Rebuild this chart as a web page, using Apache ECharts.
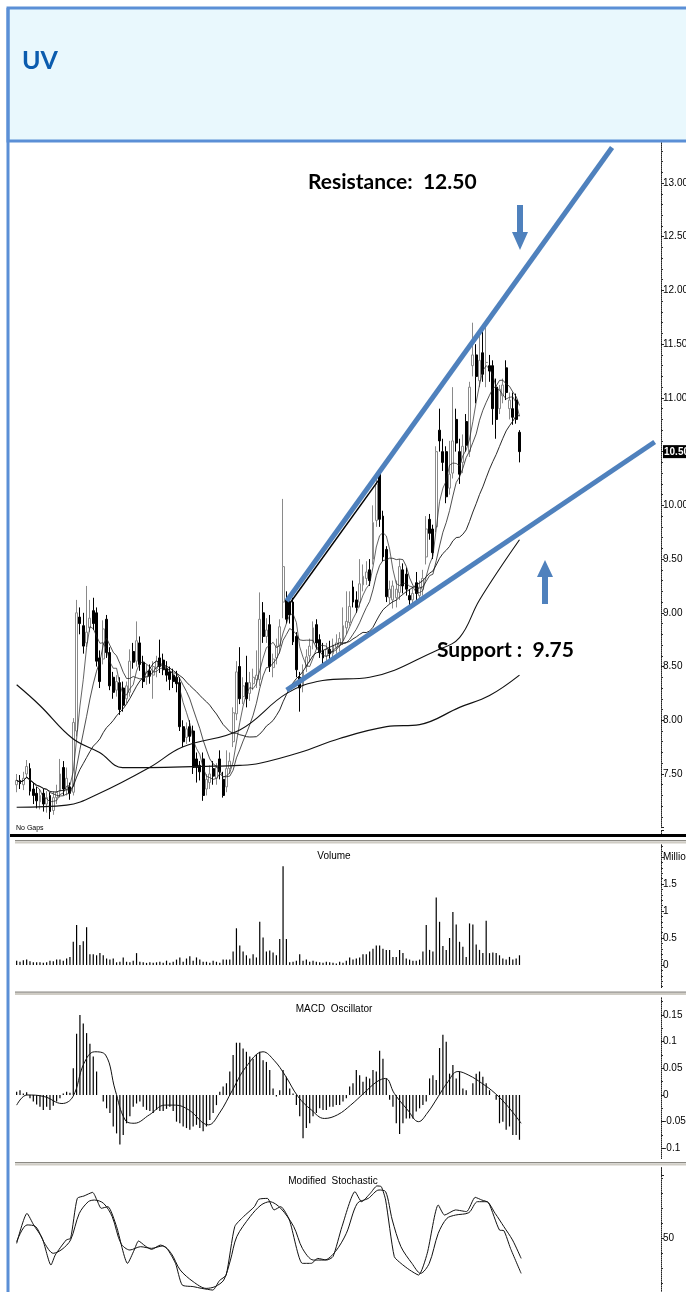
<!DOCTYPE html>
<html><head><meta charset="utf-8">
<script src="https://cdn.jsdelivr.net/npm/echarts@6/dist/echarts.min.js"></script>
<style>html,body{margin:0;padding:0;background:#fff}#c{width:686px;height:1292px}</style>
</head><body><div id="c"></div>
<script>
// ---------- DATA ----------
// daily bars: [open, close, low, high]
const ohlc = [
[7.40,7.44,7.33,7.50],[7.44,7.41,7.36,7.49],[7.40,7.46,7.35,7.52],[7.50,7.57,7.46,7.63],[7.55,7.34,7.30,7.60],
[7.36,7.30,7.22,7.42],[7.32,7.25,7.18,7.38],[7.24,7.30,7.17,7.36],[7.32,7.22,7.15,7.36],[7.22,7.28,7.14,7.34],
[7.30,7.15,7.08,7.33],[7.16,7.28,7.12,7.34],[7.28,7.33,7.22,7.40],[7.34,7.50,7.28,7.64],[7.56,7.36,7.30,7.62],
[7.36,7.46,7.30,7.56],[7.38,7.32,7.26,7.42],[7.33,7.98,7.30,8.02],[7.90,9.00,7.85,9.12],[8.96,8.90,8.80,9.05],
[8.88,8.69,8.62,9.00],[8.72,8.82,8.68,9.25],[8.86,8.95,8.82,9.12],[9.02,8.90,8.84,9.14],[9.00,8.55,8.50,9.05],
[8.58,8.36,8.30,8.65],[8.57,8.85,8.52,8.93],[8.94,8.63,8.58,8.98],[8.63,8.32,8.28,8.68],[8.40,8.26,8.20,8.45],
[8.28,8.36,8.22,8.42],[8.35,8.10,8.05,8.40],[8.30,8.14,8.08,8.36],[8.20,8.32,8.16,8.36],[8.26,8.55,8.22,8.66],
[8.64,8.54,8.48,8.72],[8.55,8.74,8.50,8.92],[8.72,8.52,8.46,8.78],[8.54,8.36,8.30,8.60],[8.40,8.45,8.33,8.52],
[8.46,8.41,8.34,8.52],[8.42,8.50,8.20,8.55],[8.48,8.55,8.40,8.60],[8.58,8.50,8.44,8.75],[8.56,8.47,8.42,8.62],
[8.48,8.42,8.36,8.55],[8.45,8.38,8.28,8.50],[8.42,8.36,8.30,8.48],[8.40,8.34,8.26,8.46],[8.35,7.94,7.90,8.40],
[7.94,7.80,7.75,8.00],[7.84,7.92,7.78,7.98],[7.94,7.85,7.80,8.00],[7.90,7.56,7.50,7.95],[7.64,7.56,7.42,7.70],
[7.58,7.52,7.44,7.62],[7.64,7.30,7.25,7.70],[7.36,7.45,7.30,7.50],[7.42,7.50,7.36,7.58],[7.55,7.48,7.40,7.62],
[7.46,7.56,7.40,7.60],[7.64,7.52,7.45,7.72],[7.45,7.30,7.28,7.52],[7.38,7.55,7.33,7.72],[7.55,7.62,7.50,7.70],
[7.80,8.07,7.75,8.12],[8.06,8.45,8.00,8.55],[8.50,8.20,8.15,8.68],[8.22,8.32,8.15,8.40],[8.35,8.20,8.12,8.60],
[8.25,8.35,8.18,8.45],[8.34,8.40,8.28,8.48],[8.38,8.42,8.30,8.65],[8.38,8.94,8.32,9.19],[9.00,8.78,8.72,9.10],
[8.78,8.84,8.72,8.95],[8.89,8.50,8.45,8.98],[8.49,8.57,8.40,8.62],[8.58,8.69,8.52,8.76],[8.69,8.87,8.62,8.94],
[9.10,9.43,8.95,10.06],[9.12,8.94,8.90,9.20],[9.10,8.98,8.90,9.14],[9.10,8.73,8.70,9.14],[8.78,8.47,8.40,8.82],
[8.40,8.30,8.08,8.45],[8.32,8.45,8.26,8.52],[8.50,8.59,8.45,8.66],[8.60,8.69,8.54,8.76],[8.72,8.86,8.66,8.92],
[8.89,8.72,8.66,8.94],[8.75,8.63,8.58,8.80],[8.65,8.58,8.52,8.72],[8.60,8.66,8.54,8.72],[8.66,8.62,8.56,8.74],
[8.62,8.70,8.58,8.76],[8.68,8.72,8.62,8.80],[8.70,8.76,8.64,8.82],[8.74,8.88,8.70,9.05],[8.86,8.92,8.80,9.20],
[8.91,9.06,8.88,9.20],[9.24,9.10,9.05,9.30],[9.12,9.05,9.00,9.20],[9.10,9.27,9.05,9.50],[9.26,9.34,9.20,9.45],
[9.32,9.38,9.26,9.48],[9.40,9.30,9.25,9.50],[9.50,9.84,9.45,10.00],[9.86,10.20,9.80,10.25],[10.29,9.87,9.80,10.31],
[9.90,9.52,9.48,9.95],[9.59,9.15,9.10,9.62],[9.14,9.22,9.08,9.30],[9.12,9.25,9.04,9.30],[9.14,9.22,9.05,9.30],
[9.19,9.43,9.12,9.50],[9.40,9.25,9.18,9.46],[9.36,9.22,9.16,9.42],[9.16,9.12,9.05,9.22],[9.12,9.18,9.06,9.24],
[9.28,9.18,9.10,9.38],[9.16,9.24,9.10,9.30],[9.22,9.32,9.16,9.40],[9.52,9.78,9.45,9.90],[9.87,9.74,9.68,9.92],
[9.78,9.56,9.50,9.82],[9.80,10.50,9.75,10.55],[10.70,10.60,10.50,10.90],[10.50,10.40,10.32,10.62],[10.50,10.08,10.02,10.55],
[10.16,10.29,10.10,10.60],[10.30,10.60,10.25,11.10],[10.80,10.58,10.50,10.90],[10.50,10.29,10.20,10.62],[10.40,10.55,10.30,10.66],
[10.78,10.56,10.50,10.85],[10.50,11.10,10.45,11.15],[11.30,11.40,11.20,11.70],[11.40,11.20,10.95,11.50],[11.16,11.35,11.10,11.58],
[11.42,11.22,11.15,11.65],[11.33,11.33,11.10,11.68],[11.30,11.25,11.15,11.40],[11.30,10.90,10.75,11.35],[11.10,10.80,10.62,11.18],
[10.90,11.08,10.85,11.12],[11.02,11.12,10.95,11.18],[11.28,11.05,10.98,11.35],[10.90,10.98,10.80,11.05],[10.90,10.82,10.75,11.05],
[10.98,10.80,10.76,11.04],[10.68,10.50,10.40,10.70]
];
// volume, millions of shares
const volume = [
0.08,0.06,0.09,0.10,0.07,0.05,0.05,0.05,0.04,0.05,0.08,0.07,0.10,0.10,0.08,0.12,0.15,
0.43,0.74,0.37,0.44,0.70,
0.20,0.20,0.18,0.22,0.18,0.12,0.10,0.12,
0.05,0.06,0.14,0.06,0.05,0.08,0.22,0.06,0.05,0.04,
0.05,0.04,0.05,0.06,0.04,0.08,0.04,0.06,0.10,0.14,
0.06,0.12,0.16,0.08,0.14,0.10,0.06,0.06,0.04,0.08,
0.06,0.04,0.10,0.10,0.10,0.25,0.68,0.36,0.25,0.18,0.12,0.20,
0.14,0.80,0.51,0.25,0.27,0.23,0.18,0.48,1.83,0.48,
0.05,0.06,0.08,0.20,0.08,0.10,0.06,0.08,0.06,0.05,0.04,0.06,0.05,0.04,0.03,0.06,0.04,0.08,0.14,0.10,0.12,0.14,0.20,0.20,
0.25,0.30,0.36,0.36,0.30,0.28,0.28,0.15,0.15,0.28,0.22,0.12,0.10,0.08,0.08,0.10,0.25,
0.74,0.28,0.25,1.25,0.80,0.35,0.28,0.50,0.98,0.75,0.43,0.34,0.15,0.77,0.75,0.38,0.28,0.22,0.82,0.22,0.23,0.22,0.18,0.12,0.10,0.15,0.10,0.12,0.18
];
// MACD oscillator histogram
const macdHist = [
0.006,0.009,0.003,0.005,-0.006,-0.012,-0.018,-0.022,-0.028,-0.022,
-0.028,-0.02,-0.012,-0.006,0.003,0.006,0.004,0.05,0.115,0.15,
0.134,0.116,0.096,0.072,0.044,0.0,-0.012,-0.025,-0.034,-0.059,
-0.072,-0.093,-0.075,-0.053,-0.04,-0.022,-0.016,-0.012,-0.022,-0.028,
-0.03,-0.034,-0.028,-0.03,-0.03,-0.026,-0.022,-0.03,-0.05,-0.053,
-0.059,-0.062,-0.065,-0.059,-0.056,-0.062,-0.068,-0.059,-0.047,-0.034,
-0.019,0.006,0.016,0.022,0.044,0.075,0.098,0.098,0.087,0.081,
0.072,0.068,0.075,0.081,0.065,0.062,0.047,0.012,-0.003,0.009,
0.047,0.034,0.012,0.003,-0.019,-0.04,-0.081,-0.062,-0.053,-0.04,
-0.034,-0.025,-0.028,-0.028,-0.022,-0.022,-0.019,-0.019,-0.012,-0.006,
0.016,0.022,0.047,0.037,0.025,0.034,0.031,0.047,0.044,0.083,
0.068,0.031,-0.009,-0.022,-0.053,-0.073,-0.053,-0.044,-0.044,-0.044,
-0.031,-0.025,-0.019,-0.012,0.031,0.037,0.028,0.088,0.113,0.10,
0.04,0.056,0.031,0.044,0.012,0.009,0.0,0.022,0.04,0.044,
0.034,0.022,0.009,0.0,-0.009,-0.053,-0.05,-0.065,-0.059,-0.075,
-0.075,-0.084
];
// MACD signal line, read at [bar, value]
const macdSignal = [[0,-0.019],[3.1,0.0],[8.3,-0.003],[13.6,-0.016],[16.9,-0.003],[20.2,0.059],[23.4,0.081],[26.7,0.075],[29.6,0.009],[32.6,-0.047],[35.3,-0.053],[39.9,-0.037],[44.5,-0.019],[47.7,-0.019],[51.7,-0.028],[57.6,-0.056],[60.9,-0.034],[64.8,0.009],[68.8,0.052],[74.0,0.081],[77.3,0.065],[80.6,0.037],[84.5,-0.003],[88.5,-0.028],[92.4,-0.044],[96.4,-0.037],[100.3,-0.019],[104.2,0.003],[108.2,0.025],[110.8,0.031],[113.4,0.003],[117.4,-0.028],[120.7,-0.050],[123.3,-0.034],[126.6,-0.003],[129.2,0.022],[132.5,0.044],[135.8,0.037],[139.7,0.022],[143.7,0.003],[147.6,-0.022],[151.5,-0.053]];
// Modified stochastic, read at [bar, value]
const stochK = [[0,46.4],[3.1,66.4],[5.1,58.7],[7.7,49.8],[10.3,32.0],[11.6,38.7],[14.9,48.7],[16.2,49.8],[18.2,76.4],[20.2,78.0],[22.8,80.4],[24.1,75.3],[25.4,69.8],[27.4,70.9],[30.0,57.6],[33.3,33.1],[35.3,42.0],[36.6,48.0],[38.6,44.7],[40.5,42.4],[43.2,45.3],[45.1,43.1],[47.7,33.1],[49.7,18.7],[53.0,17.6],[55.6,16.4],[58.9,15.3],[60.9,21.6],[62.9,25.3],[65.5,57.6],[68.1,64.2],[71.4,70.9],[72.7,75.8],[75.3,76.4],[77.3,68.7],[79.3,70.9],[81.9,62.0],[85.8,33.1],[88.5,33.1],[90.4,36.4],[93.1,35.3],[95.0,37.6],[97.7,57.6],[101.6,80.9],[103.6,74.2],[106.2,79.8],[108.2,84.7],[109.5,84.2],[110.8,75.3],[113.4,37.6],[115.4,33.1],[118.0,28.7],[120.7,25.3],[123.3,39.8],[126.6,72.0],[128.5,65.3],[131.8,68.7],[135.1,67.6],[137.7,77.1],[139.7,75.3],[141.7,73.6],[145.0,55.3],[146.3,54.9],[148.3,43.1],[151.5,26.4]];
const stochD = [[0,47.6],[3.1,58.7],[5.7,57.6],[8.4,46.4],[11.0,39.8],[13.6,42.4],[16.2,48.7],[18.8,66.4],[21.5,74.2],[23.4,75.3],[26.1,73.1],[28.7,64.2],[31.3,46.4],[34.0,42.0],[37.2,44.2],[40.5,43.1],[43.8,44.7],[46.4,39.8],[49.1,28.7],[53.0,20.9],[56.9,16.4],[59.6,17.6],[62.2,22.0],[64.2,35.3],[66.1,50.9],[70.1,64.2],[73.4,72.0],[76.0,74.2],[79.3,69.8],[83.2,57.6],[85.8,43.1],[89.1,35.3],[92.4,35.3],[95.7,40.9],[99.0,53.1],[102.3,73.1],[105.6,76.4],[108.8,82.0],[110.8,80.9],[112.8,62.0],[115.4,44.2],[118.7,33.1],[121.3,26.4],[123.9,33.1],[126.6,53.1],[129.2,63.1],[131.8,65.3],[135.8,66.9],[138.4,74.2],[141.0,74.2],[143.7,66.4],[146.3,57.6],[148.9,48.7],[151.5,36.4]];
// long moving averages, read at [bar, price]
const maLong = [[0,8.33],[6.9,8.14],[16.8,7.83],[24.9,7.70],[31.8,7.56],[39.9,7.56],[55.0,7.57],[67.0,7.58],[73.0,7.60],[85.0,7.70],[97.0,7.83],[111.1,7.94],[121.0,7.96],[133.0,8.12],[142.0,8.23],[151.0,8.42]];
const maMid = [[0,7.19],[15.0,7.21],[24.9,7.32],[39.9,7.56],[49.8,7.75],[67.0,7.91],[81.1,8.25],[91.9,8.37],[106.0,8.40],[126.1,8.65],[133.0,8.77],[139.0,9.12],[151.0,9.68]];
// drawn trend lines [bar, price]
const resistanceLine = [[81.1,9.11],[178.8,13.33]];
const resistanceDraft = [[81.6,9.07],[108.6,10.23]];
const supportLine = [[81.1,8.28],[191.6,10.59]];
const priceLevels = {resistance:'12.50', support:'9.75', last:10.5};

// ---------- LAYOUT ----------
const NS = 194;                       // bar slots across the plot (incl. empty right margin)
const slots = Array.from({length: NS}, (_, i) => 'b' + i);
const L = 15, W = 646;
const labFont = "'Liberation Sans Narrow','Liberation Sans',Arial,sans-serif";
const closes = ohlc.map(d => d[1]);
function sma(n){return closes.map((c,i)=>{const s=Math.max(0,i-n+1);let t=0;for(let k=s;k<=i;k++)t+=closes[k];return +(t/(i-s+1)).toFixed(3);});}

function catX(g){return {type:'category',gridIndex:g,data:slots,boundaryGap:true,show:false};}
function valX(g){return {type:'value',gridIndex:g,min:-0.5,max:NS-0.5,show:false};}
function yAx(g,min,max,interval,fmt,minor){
  return {type:'value',gridIndex:g,position:'right',min,max,interval,
    splitLine:{show:false},
    axisLine:{show:true,onZero:false,lineStyle:{color:'#222',type:'dotted',width:1}},
    axisTick:{show:true,length:3,lineStyle:{color:'#222'}},
    minorTick:{show:true,splitNumber:minor,length:2,lineStyle:{color:'#333'}},
    axisLabel:{show:true,margin:2,color:'#000',fontSize:10,fontFamily:labFont,formatter:fmt,
      rich:{hl:{backgroundColor:'#000',color:'#fff',fontSize:10,fontWeight:'bold',fontFamily:labFont,padding:[2,1,1,1]}}}};
}
const line = (x, data, w, extra) => Object.assign({type:'line',xAxisIndex:x,yAxisIndex:0,data,showSymbol:false,symbol:'none',silent:true,
  lineStyle:{color:'#111',width:w}},extra||{});

const option = {
  animation:false,
  backgroundColor:'#fff',
  grid:[
    {left:L,width:W,top:129.3,height:698.4,containLabel:false,outerBoundsMode:'none'},
    {left:L,width:W,top:830,height:162,containLabel:false,outerBoundsMode:'none'},
    {left:L,width:W,top:988.3,height:186.7,containLabel:false,outerBoundsMode:'none'},
    {left:L,width:W,top:1163,height:150,containLabel:false,outerBoundsMode:'none'}
  ],
  xAxis:[catX(0),valX(0),catX(1),catX(2),valX(2),valX(3)],
  yAxis:[
    yAx(0,7,13.5,0.5,v=>(v<7.25||v>13.25)?'':(Math.abs(v-priceLevels.last)<1e-6?'{hl|'+v.toFixed(2)+'}':v.toFixed(2)),5),
    yAx(1,-0.5,2.5,0.5,v=>(Math.abs(v-2)<1e-6)?'Millions':((v<-0.01||v>2.2)?'':String(+v.toFixed(2))),5),
    yAx(2,-0.15,0.2,0.05,v=>(v<-0.12||v>0.17)?'':String(+v.toFixed(2)),2),
    yAx(3,0,100,50,v=>v===50?'50':'',5)
  ],
  series:[
    {type:'candlestick',xAxisIndex:0,yAxisIndex:0,data:ohlc,barWidth:'72%',silent:true,
     itemStyle:{color:'#fff',color0:'#000',borderColor:'#8a8a8a',borderColor0:'#000',borderWidth:1}},
    line(0,sma(5),0.7,{lineStyle:{color:'#222',width:0.7}}),
    line(0,sma(10),0.8,{lineStyle:{color:'#222',width:0.8}}),
    line(0,sma(25),0.9,{lineStyle:{color:'#111',width:0.9}}),
    line(1,maMid,1.1,{smooth:0.4}),
    line(1,maLong,1.2,{smooth:0.4}),
    line(1,resistanceDraft,1.2,{lineStyle:{color:'#000',width:1.5}}),
    line(1,resistanceLine,5,{lineStyle:{color:'#4f81bd',width:5,cap:'butt'},z:5}),
    line(1,supportLine,5,{lineStyle:{color:'#4f81bd',width:5,cap:'butt'},z:5}),
    {type:'bar',xAxisIndex:2,yAxisIndex:1,data:volume,barWidth:1.2,silent:true,itemStyle:{color:'#000'}},
    {type:'bar',xAxisIndex:3,yAxisIndex:2,data:macdHist,barWidth:1.2,silent:true,itemStyle:{color:'#000'}},
    {type:'line',xAxisIndex:4,yAxisIndex:2,data:macdSignal,smooth:0.4,showSymbol:false,symbol:'none',silent:true,lineStyle:{color:'#111',width:1}},
    {type:'line',xAxisIndex:5,yAxisIndex:3,data:stochK,smooth:0.2,showSymbol:false,symbol:'none',silent:true,lineStyle:{color:'#111',width:1}},
    {type:'line',xAxisIndex:5,yAxisIndex:3,data:stochD,smooth:0.3,showSymbol:false,symbol:'none',silent:true,lineStyle:{color:'#111',width:1}}
  ],
  graphic:[
    {type:'rect',z:100,shape:{x:8,y:8,width:700,height:133},style:{fill:'#e9f8fd',stroke:'#5b8fd6',lineWidth:3}},
    {type:'text',z:101,x:22,y:61,style:{text:'UV',fill:'#0b5cae',font:'bold 25px Lato, "Open Sans", sans-serif',verticalAlign:'middle'}},
    {type:'rect',z:100,shape:{x:6.5,y:8,width:3,height:1290},style:{fill:'#5b8fd6'}},
    // panel separators
    {type:'rect',z:90,shape:{x:10,y:834,width:680,height:3},style:{fill:'#000'}},
    {type:'rect',z:90,shape:{x:10,y:837,width:680,height:7},style:{fill:'#fff'}},
    {type:'rect',z:90,shape:{x:15,y:840,width:680,height:1.2},style:{fill:'#8c8a84'}},
    {type:'rect',z:90,shape:{x:15,y:841.5,width:680,height:2},style:{fill:'#cfccc4'}},
    {type:'rect',z:90,shape:{x:10,y:988,width:680,height:9},style:{fill:'#fff'}},
    {type:'rect',z:90,shape:{x:15,y:991.5,width:680,height:1.2},style:{fill:'#8c8a84'}},
    {type:'rect',z:90,shape:{x:15,y:993,width:680,height:2},style:{fill:'#cfccc4'}},
    {type:'rect',z:90,shape:{x:10,y:1159,width:680,height:8},style:{fill:'#fff'}},
    {type:'rect',z:90,shape:{x:15,y:1162,width:680,height:1.2},style:{fill:'#8c8a84'}},
    {type:'rect',z:90,shape:{x:15,y:1163.5,width:680,height:2},style:{fill:'#cfccc4'}},
    // panel titles
    {type:'text',z:95,x:334,y:856,style:{text:'Volume',fill:'#000',font:'10px '+labFont,align:'center',verticalAlign:'middle'}},
    {type:'text',z:95,x:334,y:1009,style:{text:'MACD  Oscillator',fill:'#000',font:'10px '+labFont,align:'center',verticalAlign:'middle'}},
    {type:'text',z:95,x:333,y:1181,style:{text:'Modified  Stochastic',fill:'#000',font:'10px '+labFont,align:'center',verticalAlign:'middle'}},
    {type:'text',z:95,x:16,y:828,style:{text:'No Gaps',fill:'#000',font:'7px '+labFont,verticalAlign:'middle'}},
    // annotations
    {type:'text',z:95,x:308,y:182,style:{text:'Resistance:  '+priceLevels.resistance,fill:'#000',font:'bold 21px Lato, "Open Sans", sans-serif',verticalAlign:'middle'}},
    {type:'text',z:95,x:437,y:650,style:{text:'Support :  '+priceLevels.support,fill:'#000',font:'bold 21px Lato, "Open Sans", sans-serif',verticalAlign:'middle'}},
    {type:'polygon',z:95,shape:{points:[[517,205],[523,205],[523,232],[528,232],[520,250],[512,232],[517,232]]},style:{fill:'#4f81bd'}},
    {type:'polygon',z:95,shape:{points:[[545,560],[553,577],[548,577],[548,604],[542,604],[542,577],[537,577]]},style:{fill:'#4f81bd'}}
  ]
};
const chart = echarts.init(document.getElementById('c'));
chart.setOption(option);
</script>
</body></html>
